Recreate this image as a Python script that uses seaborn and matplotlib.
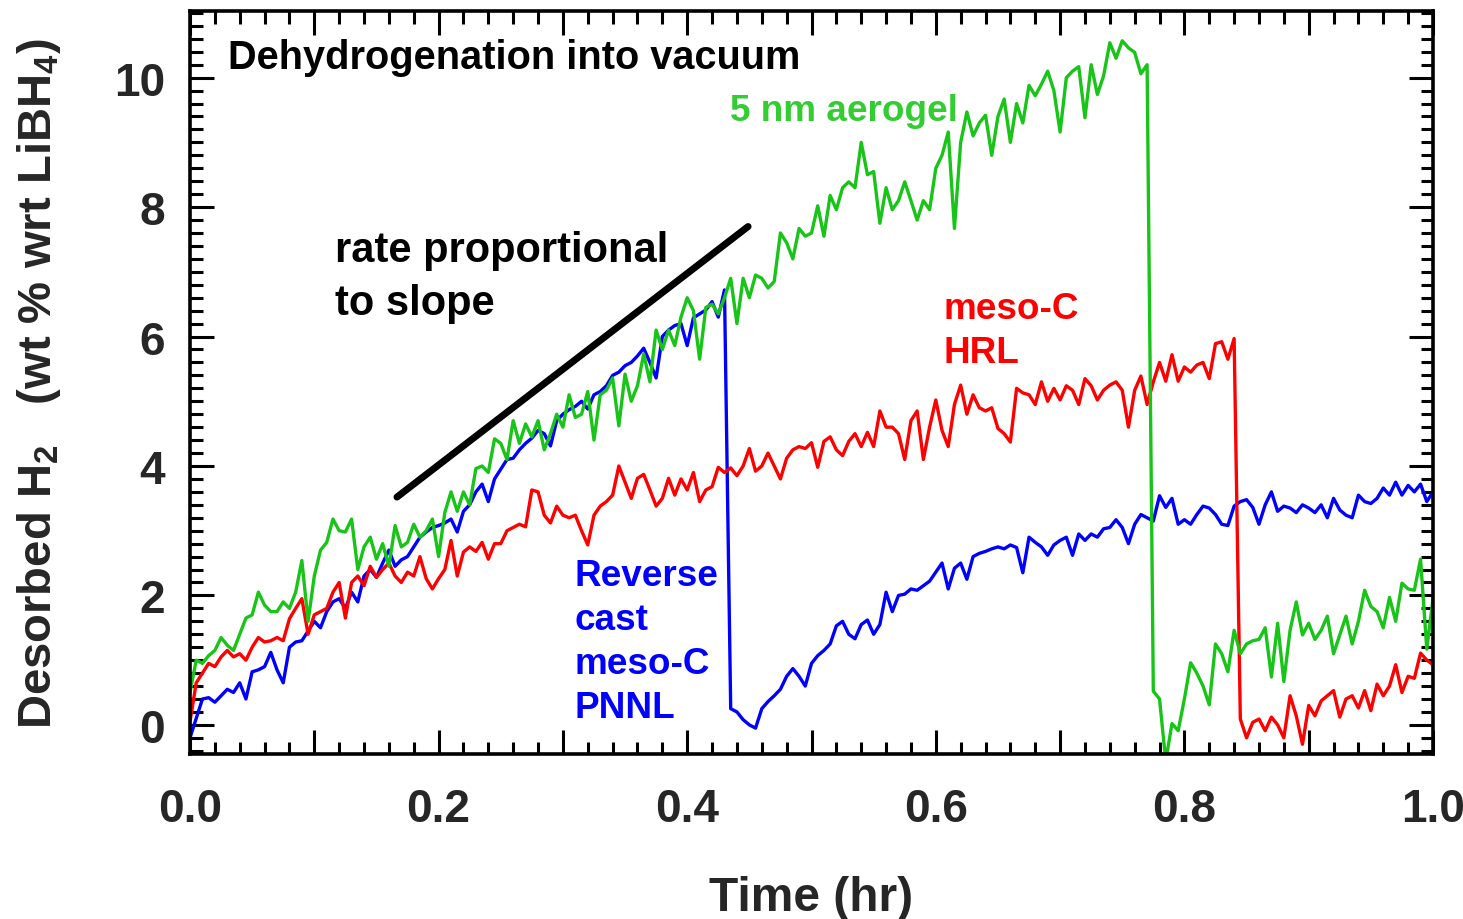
import numpy as np
import pandas as pd
import matplotlib
matplotlib.use("Agg")
import matplotlib.pyplot as plt
from matplotlib.ticker import MultipleLocator, FixedLocator, FuncFormatter
import seaborn as sns

# ---------------- data ----------------
time_hr = np.linspace(0.0, 1.0, 201)   # sampling every 0.005 hr

pnnl_blue = [
    -0.2, 0.1, 0.4, 0.42, 0.35, 0.45, 0.55, 0.5, 0.65, 0.4,
    0.82, 0.85, 0.9, 1.12, 0.85, 0.65, 1.2, 1.28, 1.3, 1.45,
    1.6, 1.5, 1.75, 1.9, 1.95, 1.8, 2.05, 1.9, 2.3, 2.4,
    2.28, 2.5, 2.7, 2.45, 2.55, 2.6, 2.75, 2.9, 2.98, 3.05,
    3.08, 3.12, 3.18, 2.98, 3.3, 3.4, 3.6, 3.72, 3.45, 3.8,
    3.95, 4.1, 4.12, 4.25, 4.35, 4.43, 4.55, 4.5, 4.31, 4.7,
    4.8, 4.87, 4.92, 5.0, 4.88, 5.1, 5.15, 5.24, 5.4, 5.45,
    5.55, 5.6, 5.7, 5.82, 5.6, 5.36, 6.0, 6.1, 6.17, 6.2,
    5.86, 6.29, 6.35, 6.41, 6.54, 6.3, 6.72, 0.25, 0.2, 0.08,
    0.0, -0.05, 0.25, 0.36, 0.45, 0.55, 0.75, 0.87, 0.75, 0.6,
    0.95, 1.07, 1.15, 1.25, 1.53, 1.6, 1.4, 1.33, 1.55, 1.62,
    1.4, 1.55, 2.05, 1.75, 2.0, 2.02, 2.1, 2.08, 2.15, 2.22,
    2.36, 2.5, 2.1, 2.42, 2.5, 2.25, 2.6, 2.65, 2.68, 2.72,
    2.75, 2.72, 2.78, 2.74, 2.35, 2.9, 2.82, 2.75, 2.62, 2.78,
    2.85, 2.9, 2.62, 2.95, 2.85, 2.95, 2.9, 3.03, 3.05, 3.17,
    3.05, 2.8, 3.1, 3.25, 3.2, 3.15, 3.54, 3.36, 3.5, 3.1,
    3.17, 3.1, 3.25, 3.38, 3.35, 3.25, 3.1, 3.08, 3.38, 3.45,
    3.48, 3.36, 3.1, 3.4, 3.6, 3.3, 3.38, 3.35, 3.28, 3.4,
    3.35, 3.28, 3.4, 3.2, 3.5, 3.32, 3.24, 3.2, 3.55, 3.45,
    3.42, 3.5, 3.66, 3.55, 3.75, 3.55, 3.7, 3.6, 3.72, 3.45,
    3.6,
]

hrl_red = [
    0.05, 0.65, 0.8, 0.95, 0.9, 1.05, 1.15, 1.05, 1.1, 1.0,
    1.2, 1.35, 1.28, 1.3, 1.35, 1.3, 1.64, 1.8, 1.95, 1.4,
    1.7, 1.75, 1.8, 2.05, 2.2, 1.65, 2.2, 2.3, 2.15, 2.45,
    2.28, 2.4, 2.5, 2.3, 2.2, 2.36, 2.3, 2.6, 2.26, 2.1,
    2.26, 2.4, 2.85, 2.3, 2.67, 2.75, 2.68, 2.82, 2.56, 2.8,
    2.8, 3.0, 3.05, 3.1, 3.06, 3.63, 3.6, 3.24, 3.12, 3.38,
    3.24, 3.2, 3.24, 3.0, 2.78, 3.24, 3.38, 3.45, 3.55, 4.0,
    3.75, 3.5, 3.81, 3.87, 3.63, 3.38, 3.5, 3.81, 3.55, 3.8,
    3.63, 3.9, 3.45, 3.63, 3.68, 3.98, 3.9, 3.97, 3.85, 4.0,
    4.27, 3.92, 4.0, 4.2, 4.0, 3.8, 4.12, 4.25, 4.3, 4.27,
    4.36, 3.98, 4.38, 4.45, 4.25, 4.16, 4.38, 4.5, 4.3, 4.52,
    4.3, 4.85, 4.6, 4.6, 4.5, 4.1, 4.7, 4.85, 4.1, 4.6,
    5.02, 4.55, 4.3, 4.95, 5.25, 4.8, 5.1, 4.9, 4.85, 4.9,
    4.58, 4.5, 4.37, 5.2, 5.13, 5.1, 4.95, 5.3, 5.0, 5.2,
    5.02, 5.24, 5.17, 4.95, 5.35, 5.24, 5.02, 5.17, 5.25, 5.3,
    5.17, 4.6, 5.17, 5.39, 4.95, 5.3, 5.6, 5.31, 5.72, 5.31,
    5.53, 5.45, 5.56, 5.6, 5.35, 5.89, 5.92, 5.65, 5.97, 0.09,
    -0.2, 0.04, 0.09, -0.09, 0.12, 0.0, -0.2, 0.45, 0.14, -0.3,
    0.3, 0.14, 0.37, 0.45, 0.53, 0.12, 0.4, 0.45, 0.26, 0.53,
    0.22, 0.63, 0.45, 0.6, 0.93, 0.5, 0.75, 0.72, 1.11, 1.0,
    0.93,
]

aerogel_green = [
    0.5, 1.0, 0.95, 1.07, 1.15, 1.35, 1.23, 1.15, 1.4, 1.65,
    1.7, 2.05, 1.85, 1.75, 1.75, 1.9, 1.8, 2.05, 2.54, 1.6,
    2.3, 2.7, 2.82, 3.18, 3.0, 2.98, 3.18, 2.4, 2.75, 2.9,
    2.56, 2.8, 2.45, 3.08, 2.75, 2.82, 3.1, 2.9, 3.0, 3.18,
    2.6, 3.28, 3.6, 3.3, 3.6, 3.4, 3.96, 4.0, 3.9, 4.42,
    4.35, 4.1, 4.7, 4.35, 4.65, 4.45, 4.7, 4.25, 4.5, 4.8,
    4.6, 5.1, 4.75, 4.8, 5.15, 4.4, 5.1, 5.17, 5.36, 4.62,
    5.42, 5.0, 5.24, 5.73, 5.3, 6.1, 5.8, 6.1, 5.86, 6.3,
    6.6, 6.4, 5.65, 6.45, 6.5, 6.35, 6.6, 6.9, 6.2, 6.9,
    6.6, 6.95, 6.9, 6.75, 6.85, 7.6, 7.45, 7.2, 7.67, 7.55,
    7.6, 8.02, 7.55, 8.18, 7.96, 8.3, 8.39, 8.3, 9.0, 8.5,
    8.55, 7.75, 8.3, 7.96, 8.1, 8.39, 8.1, 7.8, 8.1, 7.96,
    8.6, 8.8, 9.16, 7.67, 9.0, 9.47, 9.1, 9.3, 9.42, 8.8,
    9.4, 9.67, 9.0, 9.6, 9.3, 9.88, 9.72, 9.9, 10.1, 9.8,
    9.16, 10.0, 10.1, 10.17, 9.38, 10.2, 9.74, 10.03, 10.54, 10.3,
    10.57, 10.46, 10.39, 10.06, 10.2, 0.52, 0.4, -0.56, 0.02, -0.09,
    0.4, 0.96, 0.8, 0.6, 0.31, 1.25, 1.1, 0.82, 1.46, 1.1,
    1.25, 1.3, 1.32, 1.5, 0.74, 1.57, 0.67, 1.46, 1.9, 1.39,
    1.57, 1.32, 1.46, 1.68, 1.1, 1.39, 1.68, 1.25, 1.6, 2.08,
    1.83, 1.75, 1.5, 1.97, 1.6, 2.19, 2.1, 2.08, 2.56, 1.17,
    1.95,
]

series_names = ["Reverse cast meso-C PNNL", "meso-C HRL", "5 nm aerogel"]
series_colors = ["#0000ff", "#ff0000", "#19c419"]

slope_t = [0.1665, 0.449]
slope_y = [3.52, 7.70]

x_ticks = [0.0, 0.1, 0.2, 0.3, 0.4, 0.5, 0.6, 0.7, 0.8, 0.9, 1.0]
y_ticks = [0, 2, 4, 6, 8, 10]

# ---------------- style ----------------
sns.set_style("ticks")
plt.rcParams["font.family"] = ["Liberation Sans", "DejaVu Sans"]
plt.rcParams["font.weight"] = "bold"
plt.rcParams["mathtext.fontset"] = "custom"
plt.rcParams["mathtext.rm"] = "Liberation Sans:bold"
plt.rcParams["mathtext.it"] = "Liberation Sans:bold"
plt.rcParams["mathtext.bf"] = "Liberation Sans:bold"
plt.rcParams["mathtext.default"] = "rm"

fig = plt.figure(figsize=(14.63, 9.2), dpi=100)
ax = fig.add_axes([190 / 1463, 1 - 755 / 920, (1433 - 190) / 1463, (755 - 12) / 920])

df = pd.DataFrame({
    "time": np.concatenate([time_hr, time_hr, time_hr]),
    "h2": np.array(pnnl_blue + hrl_red + aerogel_green, dtype=float),
    "sample": np.repeat(series_names, len(time_hr)),
})

sns.lineplot(data=df, x="time", y="h2", hue="sample", hue_order=series_names,
             palette=dict(zip(series_names, series_colors)), estimator=None,
             sort=False, linewidth=2.4, legend=False, ax=ax)

sns.lineplot(x=slope_t, y=slope_y, color="black", linewidth=5.0, ax=ax)

ax.set_xlim(0.0, 1.0)
ax.set_ylim(-0.45, 11.03)

ax.xaxis.set_major_locator(FixedLocator(x_ticks))
ax.xaxis.set_minor_locator(MultipleLocator(0.02))
ax.xaxis.set_major_formatter(FuncFormatter(
    lambda v, p: f"{v:.1f}" if abs(round(v * 10)) % 2 == 0 else ""))
ax.yaxis.set_major_locator(FixedLocator(y_ticks))
ax.yaxis.set_minor_locator(MultipleLocator(0.2))
ax.yaxis.set_major_formatter(FuncFormatter(lambda v, p: f"{v:.0f}"))

ax.tick_params(which="both", direction="in", top=True, right=True, width=2.2,
               color="black")
ax.tick_params(which="major", length=17)
ax.tick_params(which="minor", length=9)
ax.tick_params(axis="x", which="major", labelsize=33, pad=24)
ax.tick_params(axis="y", which="major", labelsize=33, pad=18)
for lab in ax.get_xticklabels() + ax.get_yticklabels():
    lab.set_fontweight("bold")

for sp in ax.spines.values():
    sp.set_linewidth(2.6)
    sp.set_color("black")

ax.set_xlabel("Time (hr)", fontsize=34.5, fontweight="bold")
ax.set_ylabel("Desorbed H$_2$   (wt % wrt LiBH$_4$)", fontsize=34, fontweight="bold")
ax.xaxis.set_label_coords(0.5, -0.163)
ax.yaxis.set_label_coords(-0.102, 0.5)

# ---------------- annotations ----------------
ax.text(0.0306, 10.15, "Dehydrogenation into vacuum", fontsize=28.6,
        fontweight="bold", color="black", va="baseline", ha="left")
ax.text(0.1167, 7.16, "rate proportional", fontsize=30,
        fontweight="bold", color="black", va="baseline", ha="left")
ax.text(0.1167, 6.35, "to slope", fontsize=30,
        fontweight="bold", color="black", va="baseline", ha="left")
ax.text(0.4344, 9.34, "5 nm aerogel", fontsize=26.6,
        fontweight="bold", color="#33cc33", va="baseline", ha="left")
ax.text(0.6058, 6.29, "meso-C", fontsize=26.6,
        fontweight="bold", color="#ff0000", va="baseline", ha="left")
ax.text(0.6058, 5.60, "HRL", fontsize=26.6,
        fontweight="bold", color="#ff0000", va="baseline", ha="left")
for i, word in enumerate(["Reverse", "cast", "meso-C", "PNNL"]):
    ax.text(0.3097, 2.16 - 0.68 * i, word, fontsize=26.6,
            fontweight="bold", color="#0000ff", va="baseline", ha="left")

fig.savefig("out.png", dpi=100)
